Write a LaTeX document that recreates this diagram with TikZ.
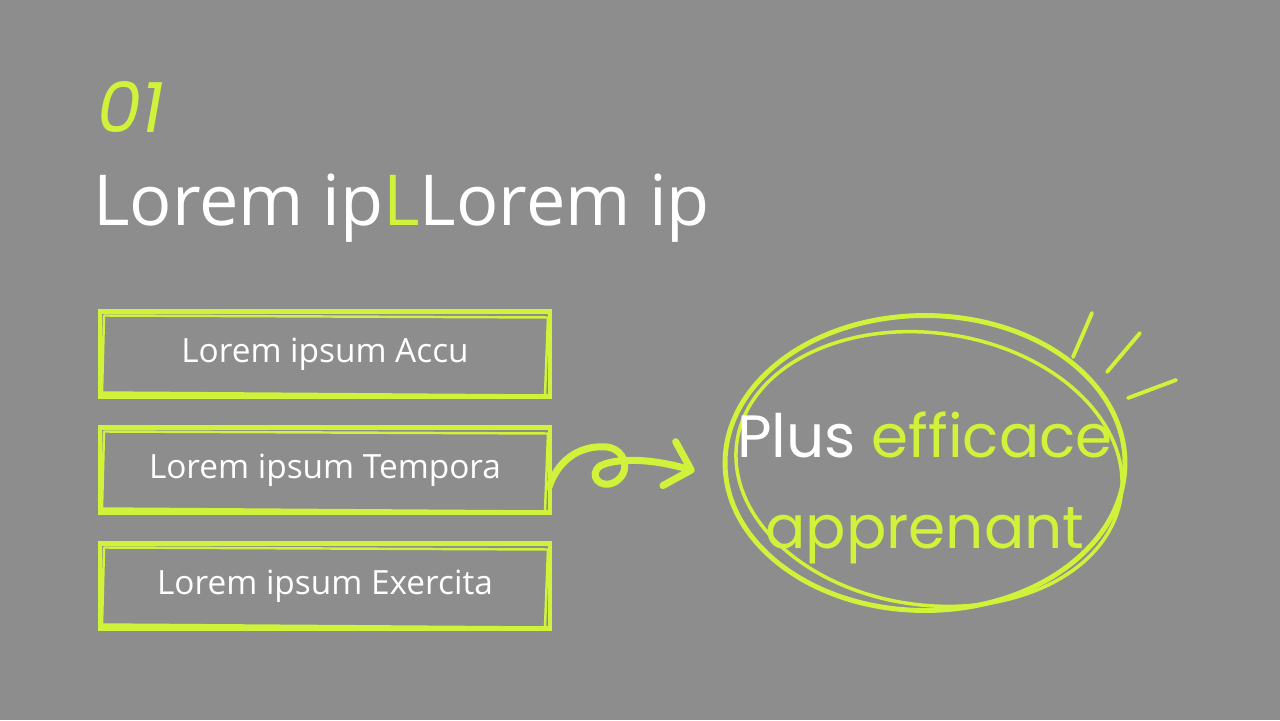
\documentclass[tikz,border=0pt]{standalone}
\usepackage{fontspec}
\setmainfont{Open Sans}
\newfontfamily\handfont{Poppins}
\usetikzlibrary{shapes.geometric,arrows.meta}
\definecolor{bgray}{HTML}{8D8D8D}
\definecolor{lime}{HTML}{D0F23A}
\tikzstyle{box} = [draw=lime, line width=2.3pt, minimum width=9cm, minimum height=1.7cm, text=white, font=\fontsize{19}{22}\selectfont]
\tikzstyle{sketch} = [draw=lime, line width=1.4pt, line join=round]
\tikzstyle{goal} = [ellipse, draw=lime, line width=2.8pt, inner sep=0, minimum width=8cm, minimum height=5.9cm]
\tikzstyle{phrase} = [align=center, inner sep=0, font=\handfont\fontsize{34}{52}\selectfont]
\tikzstyle{hand} = [draw=lime, line width=4pt, line cap=round, -{Straight Barb[length=13pt,width=26pt,round]}]
\tikzstyle{ray} = [draw=lime, line width=2.2pt, line cap=round]

\begin{document}
\begin{tikzpicture}[x=0.02cm, y=-0.02cm]
  \useasboundingbox [fill=bgray] (0,0) rectangle (1280,720);
  \node (n) at (97,132) [anchor=base west, inner sep=0, text=lime, font=\handfont\itshape\fontsize{40}{40}\selectfont] {01};
  \node (t) at (93,225) [anchor=base west, inner sep=0, text=white, font=\fontsize{40}{48}\selectfont] {Lorem ip\textcolor{lime}{L}Lorem ip};
  \node (a) at (325,354) [box] {Lorem ipsum Accu};
  \node (b) at (325,470) [box] {Lorem ipsum Tempora};
  \node (c) at (325,586) [box] {Lorem ipsum Exercita};
  \foreach \k in {a,b,c}
    \draw [sketch] ([shift={(6,6)}]\k.north west) -- ([shift={(-4,8)}]\k.north east) -- ([shift={(-7,-3)}]\k.south east) -- ([shift={(4,-6)}]\k.south west) -- cycle;
  \node (g) at (925,463) [goal] {};
  \draw [sketch, line width=2pt] ([shift={(4,6)}]g.center) ellipse [x radius=194, y radius=136, rotate=-8];
  \node (p) at ([shift={(0,25)}]g.center) [phrase] {\textcolor{white}{Plus} \textcolor{lime}{efficace}\\ \textcolor{lime}{apprenant}};
  \draw [hand] ([shift={(-3,17)}]b.east) .. controls (560,455) and (585,445) .. (607,447) .. controls (625,449) and (632,472) .. (615,482) .. controls (600,490) and (588,475) .. (600,466) .. controls (615,458) and (650,458) .. ([shift={(-28,8)}]g.west);
  \draw [ray] (1092,313) -- (1073,357);
  \draw [ray] (1140,333) -- (1107,372);
  \draw [ray] (1176,380) -- (1128,398);
\end{tikzpicture}
\end{document}
